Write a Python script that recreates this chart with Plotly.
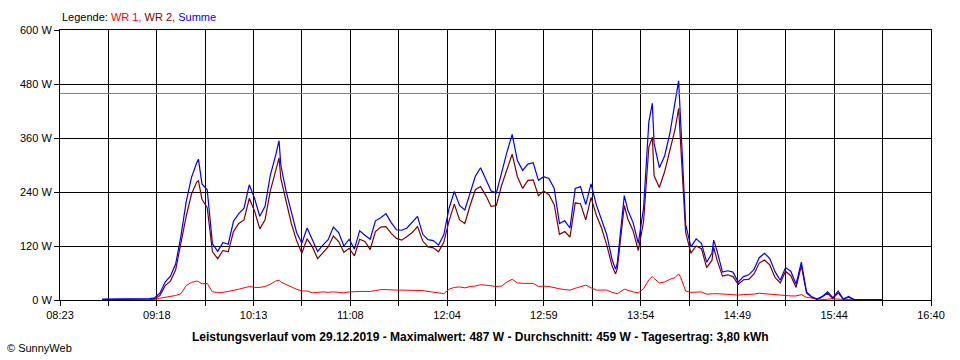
import plotly.graph_objects as go

# ---- data ----
times = ["08:47", "09:00", "09:08", "09:11", "09:14", "09:17", "09:20", "09:23", "09:26", "09:29",
         "09:32", "09:35", "09:38", "09:41", "09:42", "09:44", "09:47", "09:50", "09:53", "09:56",
         "09:59", "10:02", "10:05", "10:08", "10:11", "10:14", "10:17", "10:20", "10:23", "10:26",
         "10:28", "10:29", "10:32", "10:35", "10:38", "10:41", "10:44", "10:47", "10:50", "10:53",
         "10:56", "10:59", "11:02", "11:05", "11:08", "11:11", "11:14", "11:17", "11:20", "11:23",
         "11:26", "11:29", "11:32", "11:35", "11:38", "11:41", "11:44", "11:47", "11:50", "11:53",
         "11:56", "11:59", "12:02", "12:05", "12:08", "12:11", "12:14", "12:17", "12:20", "12:23",
         "12:26", "12:29", "12:32", "12:35", "12:38", "12:41", "12:44", "12:47", "12:50", "12:53",
         "12:56", "12:59", "13:02", "13:05", "13:08", "13:11", "13:14", "13:17", "13:20", "13:23",
         "13:26", "13:29", "13:32", "13:35", "13:38", "13:40", "13:41", "13:45", "13:47", "13:50",
         "13:53", "13:56", "13:59", "14:01", "14:02", "14:05", "14:08", "14:11", "14:14", "14:16",
         "14:17", "14:19", "14:20", "14:23", "14:26", "14:29", "14:32", "14:35", "14:36", "14:38",
         "14:41", "14:44", "14:47", "14:50", "14:53", "14:56", "14:59", "15:02", "15:05", "15:08",
         "15:11", "15:14", "15:17", "15:20", "15:23", "15:26", "15:29", "15:32", "15:35", "15:38",
         "15:41", "15:44", "15:47", "15:50", "15:53", "15:56", "15:59", "16:12"]

summe = [2, 2, 2, 2, 3, 5, 15, 40, 53, 80,
         142, 218, 272, 305, 313, 258, 245, 125, 108, 128,
         124, 175, 192, 204, 256, 226, 186, 208, 277, 321,
         354, 300, 242, 196, 150, 126, 160, 134, 108, 122,
         134, 162, 150, 120, 135, 113, 154, 144, 135, 176,
         183, 192, 172, 156, 155, 160, 172, 186, 146, 134,
         132, 122, 145, 204, 241, 210, 200, 240, 275, 294,
         268, 242, 238, 284, 328, 368, 310, 288, 302, 305,
         266, 274, 270, 248, 170, 176, 160, 248, 252, 212,
         258, 212, 180, 145, 90, 68, 82, 232, 200, 172,
         126, 205, 396, 437, 348, 294, 320, 370, 441, 487,
         408, 230, 168, 118, 136, 126, 84, 104, 133, 108,
         62, 65, 62, 40, 52, 56, 68, 94, 104, 92,
         63, 44, 72, 64, 35, 84, 18, 7, 2, 8,
         18, 5, 20, 2, 8, 1, 1, 1]

wr2 = [1, 1, 1, 1, 2, 3, 10, 32, 42, 67,
       127, 186, 235, 262, 265, 224, 205, 107, 92, 110,
       107, 152, 170, 178, 226, 198, 158, 178, 242, 285,
       316, 270, 222, 170, 132, 104, 136, 118, 92, 106,
       118, 142, 130, 106, 115, 98, 135, 130, 112, 152,
       162, 163, 148, 137, 133, 141, 150, 163, 131, 118,
       116, 107, 128, 176, 213, 178, 170, 210, 245, 252,
       232, 208, 210, 255, 292, 324, 274, 248, 266, 267,
       232, 242, 234, 212, 146, 152, 140, 216, 214, 178,
       228, 189, 160, 122, 76, 58, 70, 210, 180, 154,
       110, 175, 340, 362, 276, 250, 285, 335, 380, 426,
       356, 200, 150, 104, 120, 114, 72, 88, 117, 88,
       53, 56, 52, 35, 45, 46, 58, 82, 89, 78,
       50, 38, 64, 54, 28, 76, 15, 6, 1, 7,
       15, 3, 16, 2, 6, 1, 1, 1]

wr1 = [None, None, None, None, 1, 1, 4, 6, 8, 10,
       14, 32, 39, 42, 41, 36, 37, 18, 17, 17,
       19, 21, 24, 27, 30, 28, 28, 30, 35, 42,
       44, 40, 34, 29, 24, 20, 20, 16, 17, 18,
       17, 18, 17, 16, 18, 19, 19, 19, 19, 21,
       23, 23, 22, 22, 22, 22, 22, 22, 21, 19,
       18, 16, 14, 24, 28, 29, 27, 30, 31, 34,
       33, 31, 30, 31, 40, 46, 38, 37, 37, 37,
       30, 31, 30, 27, 25, 23, 22, 26, 30, 33,
       27, 22, 22, 22, 17, 14, 14, 24, 21, 18,
       16, 25, 45, 52, 48, 38, 40, 46, 50, 58,
       52, 32, 20, 17, 18, 18, 13, 15, 14, 14,
       13, 12, 12, 11, 12, 12, 13, 15, 14, 13,
       11, 10, 10, 9, 9, 12, 6, 4, 2, 1,
       2, 3, 2, 1, 1, 1, None, None]

x_labels = ["08:23", "09:18", "10:13", "11:08", "12:04", "12:59", "13:54", "14:49", "15:44", "16:40"]
y_ticks = [0, 120, 240, 360, 480, 600]
average_w = 459
title_text = ("Leistungsverlauf vom 29.12.2019 - Maximalwert: 487 W - "
              "Durchschnitt: 459 W - Tagesertrag: 3,80 kWh")


def to_min(s):
    h, m = s.split(":")
    return int(h) * 60 + int(m)


x = [to_min(t) for t in times]
x0 = to_min(x_labels[0])
x1 = to_min(x_labels[-1])
n_grid = 2 * (len(x_labels) - 1)
step = (x1 - x0) / n_grid
tickvals = [x0 + k * step for k in range(n_grid + 1)]
ticktext = [x_labels[k // 2] if k % 2 == 0 else "" for k in range(n_grid + 1)]

FONT = "Liberation Sans, Arial, sans-serif"

fig = go.Figure()
fig.add_trace(go.Scatter(x=x, y=wr1, mode="lines", name="WR 1",
                         line=dict(color="#FF0000", width=1), connectgaps=False))
fig.add_trace(go.Scatter(x=x, y=wr2, mode="lines", name="WR 2",
                         line=dict(color="#800000", width=1.2)))
fig.add_trace(go.Scatter(x=x, y=summe, mode="lines", name="Summe",
                         line=dict(color="#0000FF", width=1.2)))

fig.add_shape(type="line", xref="paper", x0=0, x1=1, yref="y",
              y0=average_w, y1=average_w, line=dict(color="#808080", width=1),
              layer="above")

fig.update_layout(
    width=960, height=360,
    margin=dict(l=60, r=29, t=30, b=60),
    paper_bgcolor="white", plot_bgcolor="white",
    showlegend=False,
    font=dict(family=FONT, size=11, color="black"),
)
fig.update_xaxes(range=[x0, x1], tickvals=tickvals, ticktext=ticktext,
                 showgrid=True, gridcolor="black", gridwidth=1,
                 ticks="outside", ticklen=5, tickcolor="black", tickwidth=1,
                 showline=True, linecolor="black", linewidth=1, mirror=True,
                 zeroline=False, tickfont=dict(family=FONT, size=11, color="black"))
fig.update_yaxes(range=[0, 600], tickvals=y_ticks,
                 ticktext=[f"{v} W" for v in y_ticks],
                 showgrid=True, gridcolor="black", gridwidth=1,
                 ticks="outside", ticklen=5, tickcolor="black", tickwidth=1,
                 showline=True, linecolor="black", linewidth=1, mirror=True,
                 zeroline=False, tickfont=dict(family=FONT, size=11, color="black"))

fig.add_annotation(
    xref="paper", yref="paper", x=0, y=1 + 13 / 270, xanchor="left", yanchor="middle",
    showarrow=False,
    text=("Legende: <span style='color:#FF0000'>WR 1,</span> "
          "<span style='color:#800000'>WR 2,</span> "
          "<span style='color:#0000FF'>Summe</span>"),
    font=dict(family=FONT, size=11, color="black"))
fig.add_annotation(
    xref="paper", yref="paper", x=(480 - 60) / 871, y=-37 / 270,
    xanchor="center", yanchor="middle", showarrow=False,
    text="<b>" + title_text + "</b>",
    font=dict(family=FONT, size=12, color="black"))
fig.add_annotation(
    xref="paper", yref="paper", x=(5 - 60) / 871, y=-48 / 270,
    xanchor="left", yanchor="middle", showarrow=False,
    text="© SunnyWeb",
    font=dict(family=FONT, size=11, color="black"))

fig.write_html("out.html", config={"displayModeBar": False},
               post_script="document.body.style.margin='0';")
